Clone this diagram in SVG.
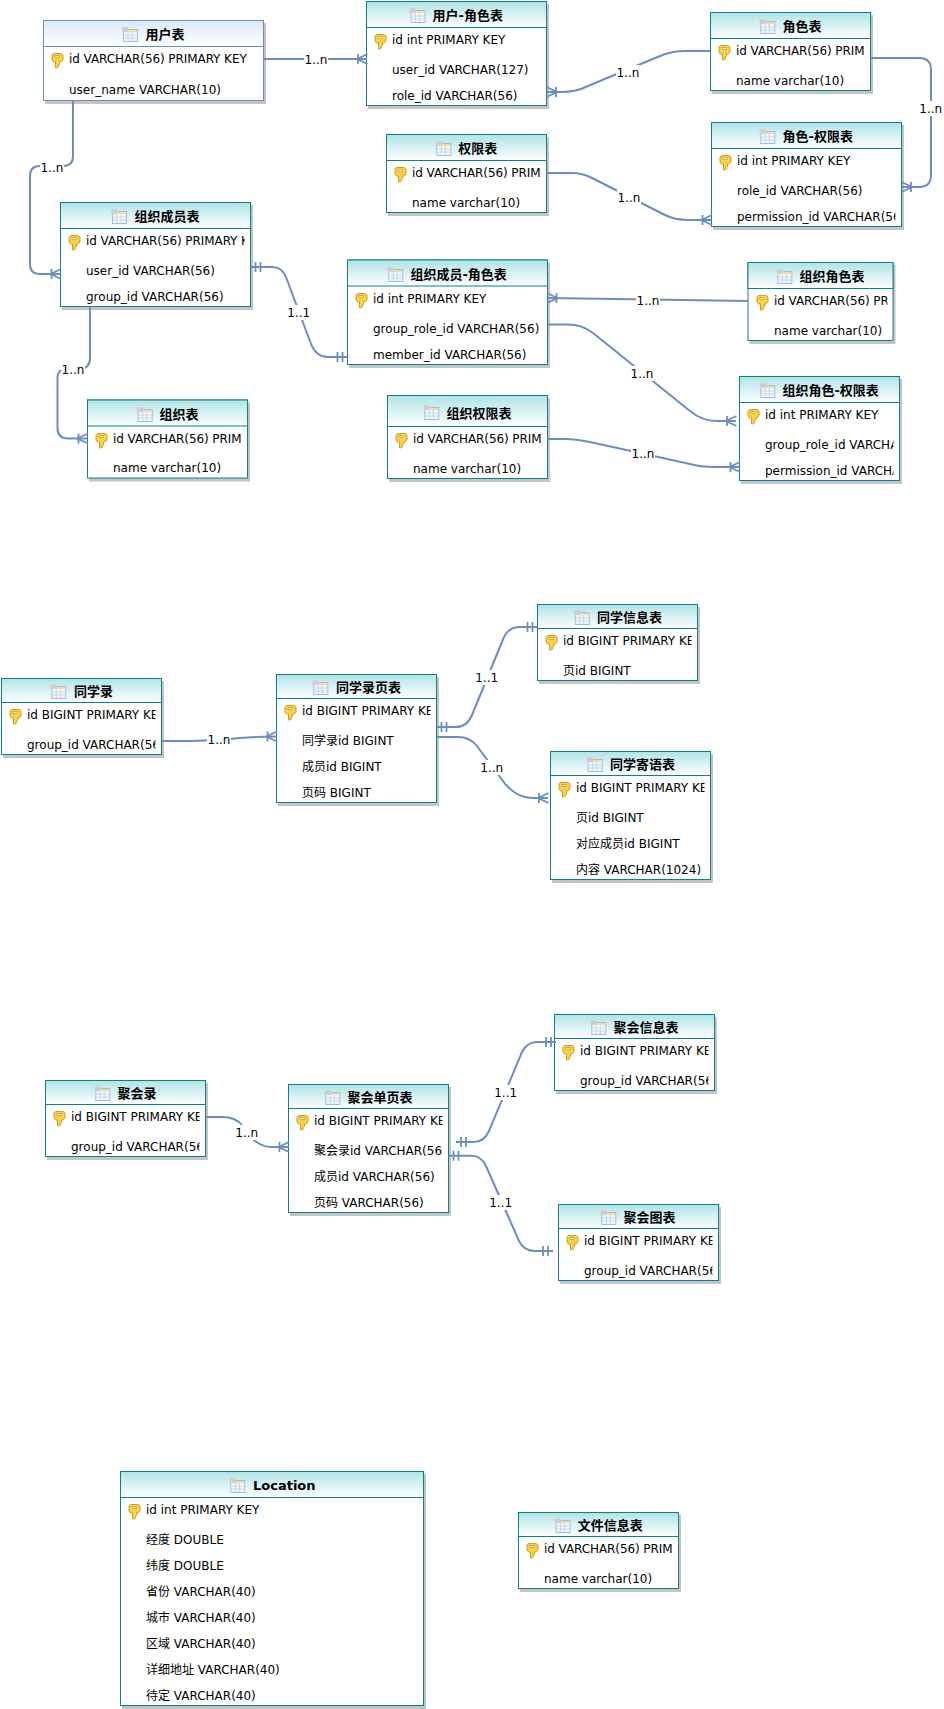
<svg xmlns="http://www.w3.org/2000/svg" width="944" height="1709" viewBox="0 0 944 1709">
<style>
text{font-family:"DejaVu Sans","Noto Sans CJK SC",sans-serif;font-size:12px;fill:#000}
.t{font-size:13px;font-weight:bold}
.p{letter-spacing:-.08px}
.s{fill:#c4c4c4;stroke:#c4c4c4;stroke-width:1}
.b{fill:#fff;stroke:#0e8088;stroke-width:1}
.h{fill:url(#g);stroke:#0e8088;stroke-width:1}
.hb{fill:url(#gb);stroke:#6c8ebf;stroke-width:1}
.bb{fill:#fff;stroke:#6c8ebf;stroke-width:1}
.c{fill:none;stroke:#6c8ebf;stroke-width:2}
.mm{marker-end:url(#many)}
.oo{marker-start:url(#oneS);marker-end:url(#one)}
.l{fill:#fff;stroke:none}
.n{text-anchor:middle}
</style>
<defs>
<linearGradient id="g" x1="0" y1="0" x2="0" y2="1"><stop offset="0" stop-color="#b0e3e6"/><stop offset="1" stop-color="#fff"/></linearGradient>
<linearGradient id="gb" x1="0" y1="0" x2="0" y2="1"><stop offset="0" stop-color="#dae8fc"/><stop offset="1" stop-color="#fff"/></linearGradient>
<marker id="many" markerUnits="userSpaceOnUse" markerWidth="24" markerHeight="24" refX="12" refY="12" orient="auto" overflow="visible"><path d="M12.500 7 L2 12 L12.500 17 M3 7 V17" fill="none" stroke="#6c8ebf" stroke-width="1.800"/></marker>
<marker id="one" markerUnits="userSpaceOnUse" markerWidth="24" markerHeight="24" refX="12" refY="12" orient="auto" overflow="visible"><path d="M7 7 V17 M2 7 V17" fill="none" stroke="#6c8ebf" stroke-width="1.800"/></marker>
<marker id="oneS" markerUnits="userSpaceOnUse" markerWidth="24" markerHeight="24" refX="12" refY="12" orient="auto-start-reverse" overflow="visible"><path d="M7 7 V17 M2 7 V17" fill="none" stroke="#6c8ebf" stroke-width="1.800"/></marker>
<symbol id="tbl" width="16" height="15" viewBox="0 0 16 15" overflow="visible">
<rect x="1.500" y="2.500" width="14" height="12" fill="#f3f7fc" stroke="#9dc0e0"/>
<rect x="2" y="3" width="13" height="2" fill="#f6dc95"/>
<path d="M6 5V14M10 5V14M2 8H15M2 11H15" stroke="#c6d8ec" stroke-width="1" fill="none"/>
<rect x="0" y="0" width="6.500" height="5" fill="#c9ced4" stroke="#dfe3e6" stroke-width=".5"/>
</symbol>
<symbol id="key" width="12" height="15" viewBox="0 0 12 15" overflow="visible">
<path d="M2 .5H9.500L11.500 2V7L9.500 9H8V11.500L6.500 12.500L7.500 13.500L5 15H4V9H2L.5 7V2Z" fill="#fbd14b" stroke="#cf9f22" stroke-width="1" stroke-linejoin="round"/>
<rect x="3.500" y="2.500" width="4.500" height="2" fill="#fff8dc" stroke="#b98a1a" stroke-width=".6"/>
</symbol>
<clipPath id="c01"><rect x="366" y="28" width="174" height="78"/></clipPath>
<clipPath id="c02"><rect x="710" y="39" width="155" height="52"/></clipPath>
<clipPath id="c03"><rect x="711" y="149" width="184.500" height="78"/></clipPath>
<clipPath id="c04"><rect x="386" y="161" width="155" height="52"/></clipPath>
<clipPath id="c05"><rect x="60" y="229" width="184.500" height="78"/></clipPath>
<clipPath id="c06"><rect x="347" y="287" width="195" height="78"/></clipPath>
<clipPath id="c07"><rect x="87" y="427" width="155" height="52"/></clipPath>
<clipPath id="c08"><rect x="387" y="427" width="155" height="52"/></clipPath>
<clipPath id="c09"><rect x="748" y="289" width="139.500" height="52"/></clipPath>
<clipPath id="c10"><rect x="739" y="403" width="154.500" height="78"/></clipPath>
<clipPath id="c11"><rect x="1" y="703" width="154.500" height="52"/></clipPath>
<clipPath id="c12"><rect x="276" y="699" width="154.500" height="104"/></clipPath>
<clipPath id="c13"><rect x="537" y="629" width="154.500" height="52"/></clipPath>
<clipPath id="c14"><rect x="550" y="776" width="154.500" height="104"/></clipPath>
<clipPath id="c15"><rect x="45" y="1105" width="154.500" height="52"/></clipPath>
<clipPath id="c16"><rect x="288" y="1109" width="154.500" height="104"/></clipPath>
<clipPath id="c17"><rect x="554" y="1039" width="154.500" height="52"/></clipPath>
<clipPath id="c18"><rect x="558" y="1229" width="154.500" height="52"/></clipPath>
<clipPath id="c19"><rect x="518" y="1537" width="155" height="52"/></clipPath>
</defs>
<rect width="944" height="1709" fill="#fff"/>

<g id="node-user">
<rect class="s" x="45.500" y="23.500" width="220" height="80"/><rect class="bb" x="43.500" y="20.500" width="220" height="80"/><rect class="hb" x="43.500" y="20.500" width="220" height="26"/>
<use href="#tbl" x="122" y="27"/><text class="t" x="145.500" y="39">用户表</text><use href="#key" x="51.500" y="53"/>
<text class="p" x="69" y="63">id VARCHAR(56) PRIMARY KEY</text><text x="69" y="94">user_name VARCHAR(10)</text>
</g>
<g id="node-user-role">
<rect class="s" x="368.500" y="4.500" width="180" height="104"/><rect class="b" x="366.500" y="1.500" width="180" height="104"/><rect class="h" x="366.500" y="1.500" width="180" height="26"/>
<use href="#tbl" x="409.500" y="8"/><text class="t" x="432.600" y="20">用户-角色表</text><use href="#key" x="374.500" y="34"/>
<g clip-path="url(#c01)"><text x="392" y="44">id int PRIMARY KEY</text><text x="392" y="74">user_id VARCHAR(127)</text><text x="392" y="100">role_id VARCHAR(56)</text></g>
</g>
<g id="node-role">
<rect class="s" x="712.500" y="15.500" width="160" height="78"/><rect class="b" x="710.500" y="12.500" width="160" height="78"/><rect class="h" x="710.500" y="12.500" width="160" height="26"/>
<use href="#tbl" x="759.300" y="19"/><text class="t" x="782.600" y="31">角色表</text><use href="#key" x="718.500" y="45"/>
<g clip-path="url(#c02)"><text class="p" x="736" y="55">id VARCHAR(56) PRIM</text><text x="736" y="85">name varchar(10)</text></g>
</g>
<g id="node-role-perm">
<rect class="s" x="713.500" y="125.500" width="190" height="104"/><rect class="b" x="711.500" y="122.500" width="190" height="104"/><rect class="h" x="711.500" y="122.500" width="190" height="26"/>
<use href="#tbl" x="759.300" y="129"/><text class="t" x="782.600" y="141">角色-权限表</text><use href="#key" x="719.500" y="155"/>
<g clip-path="url(#c03)"><text x="737" y="165">id int PRIMARY KEY</text><text x="737" y="195">role_id VARCHAR(56)</text><text x="737" y="221">permission_id VARCHAR(56</text></g>
</g>
<g id="node-perm">
<rect class="s" x="388.500" y="137.500" width="160" height="78"/><rect class="b" x="386.500" y="134.500" width="160" height="78"/><rect class="h" x="386.500" y="134.500" width="160" height="26"/>
<use href="#tbl" x="435.300" y="141"/><text class="t" x="458.300" y="153">权限表</text><use href="#key" x="394.500" y="167"/>
<g clip-path="url(#c04)"><text class="p" x="412" y="177">id VARCHAR(56) PRIM</text><text x="412" y="207">name varchar(10)</text></g>
</g>
<g id="node-member">
<rect class="s" x="62.500" y="205.500" width="190" height="104"/><rect class="b" x="60.500" y="202.500" width="190" height="104"/><rect class="h" x="60.500" y="202.500" width="190" height="26"/>
<use href="#tbl" x="111" y="209"/><text class="t" x="134.400" y="221">组织成员表</text><use href="#key" x="68.500" y="235"/>
<g clip-path="url(#c05)"><text class="p" x="86" y="245">id VARCHAR(56) PRIMARY K</text><text x="86" y="275">user_id VARCHAR(56)</text><text x="86" y="301">group_id VARCHAR(56)</text></g>
</g>
<g id="node-member-role">
<rect class="s" x="349.500" y="263" width="200" height="104.500"/><rect class="b" x="347.500" y="260" width="200" height="104.500"/><rect class="h" x="347.500" y="260" width="200" height="26"/>
<use href="#tbl" x="387.300" y="267"/><text class="t" x="410.400" y="279">组织成员-角色表</text><use href="#key" x="355.500" y="293"/>
<g clip-path="url(#c06)"><text x="373" y="303">id int PRIMARY KEY</text><text x="373" y="333">group_role_id VARCHAR(56)</text><text x="373" y="359">member_id VARCHAR(56)</text></g>
</g>
<g id="node-org">
<rect class="s" x="89.500" y="403" width="160" height="78"/><rect class="b" x="87.500" y="400" width="160" height="78"/><rect class="h" x="87.500" y="400" width="160" height="26"/>
<use href="#tbl" x="136.700" y="407"/><text class="t" x="159.400" y="419">组织表</text><use href="#key" x="95.500" y="433"/>
<g clip-path="url(#c07)"><text class="p" x="113" y="443">id VARCHAR(56) PRIM</text><text x="113" y="472">name varchar(10)</text></g>
</g>
<g id="node-org-perm">
<rect class="s" x="389.500" y="398.500" width="160" height="83"/><rect class="b" x="387.500" y="395.500" width="160" height="83"/><rect class="h" x="387.500" y="395.500" width="160" height="31"/>
<use href="#tbl" x="423.300" y="405"/><text class="t" x="446.400" y="418">组织权限表</text><use href="#key" x="395.500" y="433"/>
<g clip-path="url(#c08)"><text class="p" x="413" y="443">id VARCHAR(56) PRIM</text><text x="413" y="473">name varchar(10)</text></g>
</g>
<g id="node-org-role">
<rect class="s" x="750" y="265.500" width="145" height="78"/><rect class="b" x="748" y="262.500" width="145" height="78"/><rect class="h" x="748" y="262.500" width="145" height="26"/>
<use href="#tbl" x="776.300" y="269"/><text class="t" x="799.400" y="281">组织角色表</text><use href="#key" x="756.500" y="295"/>
<g clip-path="url(#c09)"><text class="p" x="774" y="305">id VARCHAR(56) PR</text><text x="774" y="335">name varchar(10)</text></g>
</g>
<g id="node-org-role-perm">
<rect class="s" x="741.500" y="379.500" width="160" height="104"/><rect class="b" x="739.500" y="376.500" width="160" height="104"/><rect class="h" x="739.500" y="376.500" width="160" height="26"/>
<use href="#tbl" x="759.300" y="383"/><text class="t" x="782.400" y="395">组织角色-权限表</text><use href="#key" x="747.500" y="409"/>
<g clip-path="url(#c10)"><text x="765" y="419">id int PRIMARY KEY</text><text x="765" y="449">group_role_id VARCHA</text><text x="765" y="475">permission_id VARCHA</text></g>
</g>
<g id="node-classbook">
<rect class="s" x="3.500" y="681.500" width="160" height="76"/><rect class="b" x="1.500" y="678.500" width="160" height="76"/><rect class="h" x="1.500" y="678.500" width="160" height="24"/>
<use href="#tbl" x="50.300" y="684"/><text class="t" x="74" y="696">同学录</text><use href="#key" x="9.500" y="709"/>
<g clip-path="url(#c11)"><text x="27" y="719">id BIGINT PRIMARY KE</text><text x="27" y="749">group_id VARCHAR(56</text></g>
</g>
<g id="node-classbook-page">
<rect class="s" x="278.500" y="677.500" width="160" height="128"/><rect class="b" x="276.500" y="674.500" width="160" height="128"/><rect class="h" x="276.500" y="674.500" width="160" height="24"/>
<use href="#tbl" x="312.300" y="680"/><text class="t" x="336" y="692">同学录页表</text><use href="#key" x="284.500" y="705"/>
<g clip-path="url(#c12)"><text x="302" y="715">id BIGINT PRIMARY KE</text><text x="302" y="745">同学录id BIGINT</text><text x="302" y="771">成员id BIGINT</text><text x="302" y="797">页码 BIGINT</text></g>
</g>
<g id="node-classmate-info">
<rect class="s" x="539.500" y="607.500" width="160" height="76"/><rect class="b" x="537.500" y="604.500" width="160" height="76"/><rect class="h" x="537.500" y="604.500" width="160" height="24"/>
<use href="#tbl" x="573.700" y="610"/><text class="t" x="597" y="622">同学信息表</text><use href="#key" x="545.500" y="635"/>
<g clip-path="url(#c13)"><text x="563" y="645">id BIGINT PRIMARY KE</text><text x="563" y="675">页id BIGINT</text></g>
</g>
<g id="node-classmate-note">
<rect class="s" x="552.500" y="754.500" width="160" height="128"/><rect class="b" x="550.500" y="751.500" width="160" height="128"/><rect class="h" x="550.500" y="751.500" width="160" height="24"/>
<use href="#tbl" x="586.700" y="757"/><text class="t" x="610" y="769">同学寄语表</text><use href="#key" x="558.500" y="782"/>
<g clip-path="url(#c14)"><text x="576" y="792">id BIGINT PRIMARY KE</text><text x="576" y="822">页id BIGINT</text><text x="576" y="848">对应成员id BIGINT</text><text x="576" y="874">内容 VARCHAR(1024)</text></g>
</g>
<g id="node-party">
<rect class="s" x="47.500" y="1083.500" width="160" height="76"/><rect class="b" x="45.500" y="1080.500" width="160" height="76"/><rect class="h" x="45.500" y="1080.500" width="160" height="24"/>
<use href="#tbl" x="94.300" y="1086"/><text class="t" x="117.600" y="1098">聚会录</text><use href="#key" x="53.500" y="1111"/>
<g clip-path="url(#c15)"><text x="71" y="1121">id BIGINT PRIMARY KE</text><text x="71" y="1151">group_id VARCHAR(56</text></g>
</g>
<g id="node-party-page">
<rect class="s" x="290.500" y="1087.500" width="160" height="128"/><rect class="b" x="288.500" y="1084.500" width="160" height="128"/><rect class="h" x="288.500" y="1084.500" width="160" height="24"/>
<use href="#tbl" x="324.300" y="1090"/><text class="t" x="347.600" y="1102">聚会单页表</text><use href="#key" x="296.500" y="1115"/>
<g clip-path="url(#c16)"><text x="314" y="1125">id BIGINT PRIMARY KE</text><text x="314" y="1155">聚会录id VARCHAR(56</text><text x="314" y="1181">成员id VARCHAR(56)</text><text x="314" y="1207">页码 VARCHAR(56)</text></g>
</g>
<g id="node-party-info">
<rect class="s" x="556.500" y="1017.500" width="160" height="76"/><rect class="b" x="554.500" y="1014.500" width="160" height="76"/><rect class="h" x="554.500" y="1014.500" width="160" height="24"/>
<use href="#tbl" x="590.300" y="1020"/><text class="t" x="613.400" y="1032">聚会信息表</text><use href="#key" x="562.500" y="1045"/>
<g clip-path="url(#c17)"><text x="580" y="1055">id BIGINT PRIMARY KE</text><text x="580" y="1085">group_id VARCHAR(56</text></g>
</g>
<g id="node-party-pic">
<rect class="s" x="560.500" y="1207.500" width="160" height="76"/><rect class="b" x="558.500" y="1204.500" width="160" height="76"/><rect class="h" x="558.500" y="1204.500" width="160" height="24"/>
<use href="#tbl" x="600.300" y="1210"/><text class="t" x="623.600" y="1222">聚会图表</text><use href="#key" x="566.500" y="1235"/>
<g clip-path="url(#c18)"><text x="584" y="1245">id BIGINT PRIMARY KE</text><text x="584" y="1275">group_id VARCHAR(56</text></g>
</g>
<g id="node-location">
<rect class="s" x="122.500" y="1474.500" width="303" height="234"/><rect class="b" x="120.500" y="1471.500" width="303" height="234"/><rect class="h" x="120.500" y="1471.500" width="303" height="26"/>
<use href="#tbl" x="229.300" y="1478"/><text class="t" x="253" y="1490">Location</text><use href="#key" x="128.500" y="1504"/>
<text x="146" y="1514">id int PRIMARY KEY</text><text x="146" y="1544">经度 DOUBLE</text><text x="146" y="1570">纬度 DOUBLE</text><text x="146" y="1596">省份 VARCHAR(40)</text><text x="146" y="1622">城市 VARCHAR(40)</text><text x="146" y="1648">区域 VARCHAR(40)</text><text x="146" y="1674">详细地址 VARCHAR(40)</text><text x="146" y="1700">待定 VARCHAR(40)</text>
</g>
<g id="node-file">
<rect class="s" x="520.500" y="1515.500" width="160" height="76"/><rect class="b" x="518.500" y="1512.500" width="160" height="76"/><rect class="h" x="518.500" y="1512.500" width="160" height="24"/>
<use href="#tbl" x="554.700" y="1518"/><text class="t" x="577.700" y="1530">文件信息表</text><use href="#key" x="526.500" y="1543"/>
<g clip-path="url(#c19)"><text class="p" x="544" y="1553">id VARCHAR(56) PRIM</text><text x="544" y="1583">name varchar(10)</text></g>
</g>

<g id="connectors">
<path class="c mm" d="M263.500 59H367"/>
<path class="c mm" d="M73 100.500V156Q73 166 63 166H40Q30 166 30 176V264Q30 274 40 274H60.500"/>
<path class="c mm" d="M710.500 51H685Q672 51 660 56L588 86Q576 92 562 92H547"/>
<path class="c mm" d="M870.500 58H919Q931 58 931 70V175Q931 187 919 187H902"/>
<path class="c mm" d="M546.500 173H572Q582 173 592 178L665 215Q675 220 688 220H711.500"/>
<path class="c oo" d="M250.500 267H272Q282 267 286 277L311 344Q316 357 328 357H347.500"/>
<path class="c mm" d="M90 306.500V358Q90 369 79 369H66Q57.500 369 57.500 378V428Q57.500 438.500 68 438.500H87.500"/>
<path class="c mm" d="M748 301L547.500 298"/>
<path class="c mm" d="M547.500 324.500H568Q582 324.500 593 333L690 411Q702 421 717 421H736"/>
<path class="c mm" d="M547.500 439H565Q575 439 590 442L690 464Q700 467 715 467H739.500"/>
<path class="c mm" d="M161.500 741H190Q215 741 240 738Q255 736.500 276.500 736.500"/>
<path class="c oo" d="M436.500 727H456Q467 727 472 715L504 637Q509 627 520 627H537.500"/>
<path class="c mm" d="M436.500 737H458Q470 737 477 746L500 777Q514 798 532 798H548"/>
<path class="c mm" d="M205.500 1117H222Q236 1117 243 1126L251 1137Q260 1147 272 1147H288.500"/>
<path class="c oo" d="M456 1142H474Q484 1142 489 1131L522 1052Q527 1042 537 1042H556"/>
<path class="c oo" d="M448.500 1155.700H472Q481 1155.700 486 1166L519 1241Q524 1251 535 1251H553"/>
<g id="labels">
<rect class="l" x="304" y="52" width="24" height="15"/><text class="n" x="316" y="64">1..n</text>
<rect class="l" x="40" y="160" width="24" height="15"/><text class="n" x="52" y="172">1..n</text>
<rect class="l" x="616" y="65" width="24" height="15"/><text class="n" x="628" y="77">1..n</text>
<rect class="l" x="919" y="101" width="24" height="15"/><text class="n" x="930.700" y="113">1..n</text>
<rect class="l" x="617" y="190" width="24" height="15"/><text class="n" x="629" y="202">1..n</text>
<rect class="l" x="287" y="305" width="24" height="15"/><text class="n" x="298.700" y="317">1..1</text>
<rect class="l" x="61" y="362" width="24" height="15"/><text class="n" x="73" y="374">1..n</text>
<rect class="l" x="636" y="293" width="24" height="15"/><text class="n" x="648" y="305">1..n</text>
<rect class="l" x="630" y="366" width="24" height="15"/><text class="n" x="642" y="378">1..n</text>
<rect class="l" x="631" y="446" width="24" height="15"/><text class="n" x="643" y="458">1..n</text>
<rect class="l" x="207" y="732" width="24" height="15"/><text class="n" x="219" y="744">1..n</text>
<rect class="l" x="475" y="670" width="24" height="15"/><text class="n" x="486.700" y="682">1..1</text>
<rect class="l" x="480" y="760" width="24" height="15"/><text class="n" x="491.700" y="772">1..n</text>
<rect class="l" x="235" y="1125" width="24" height="15"/><text class="n" x="246.700" y="1137">1..n</text>
<rect class="l" x="494" y="1085" width="24" height="15"/><text class="n" x="505.700" y="1097">1..1</text>
<rect class="l" x="489" y="1195" width="24" height="15"/><text class="n" x="500.700" y="1207">1..1</text>
</g>
</g>
</svg>
